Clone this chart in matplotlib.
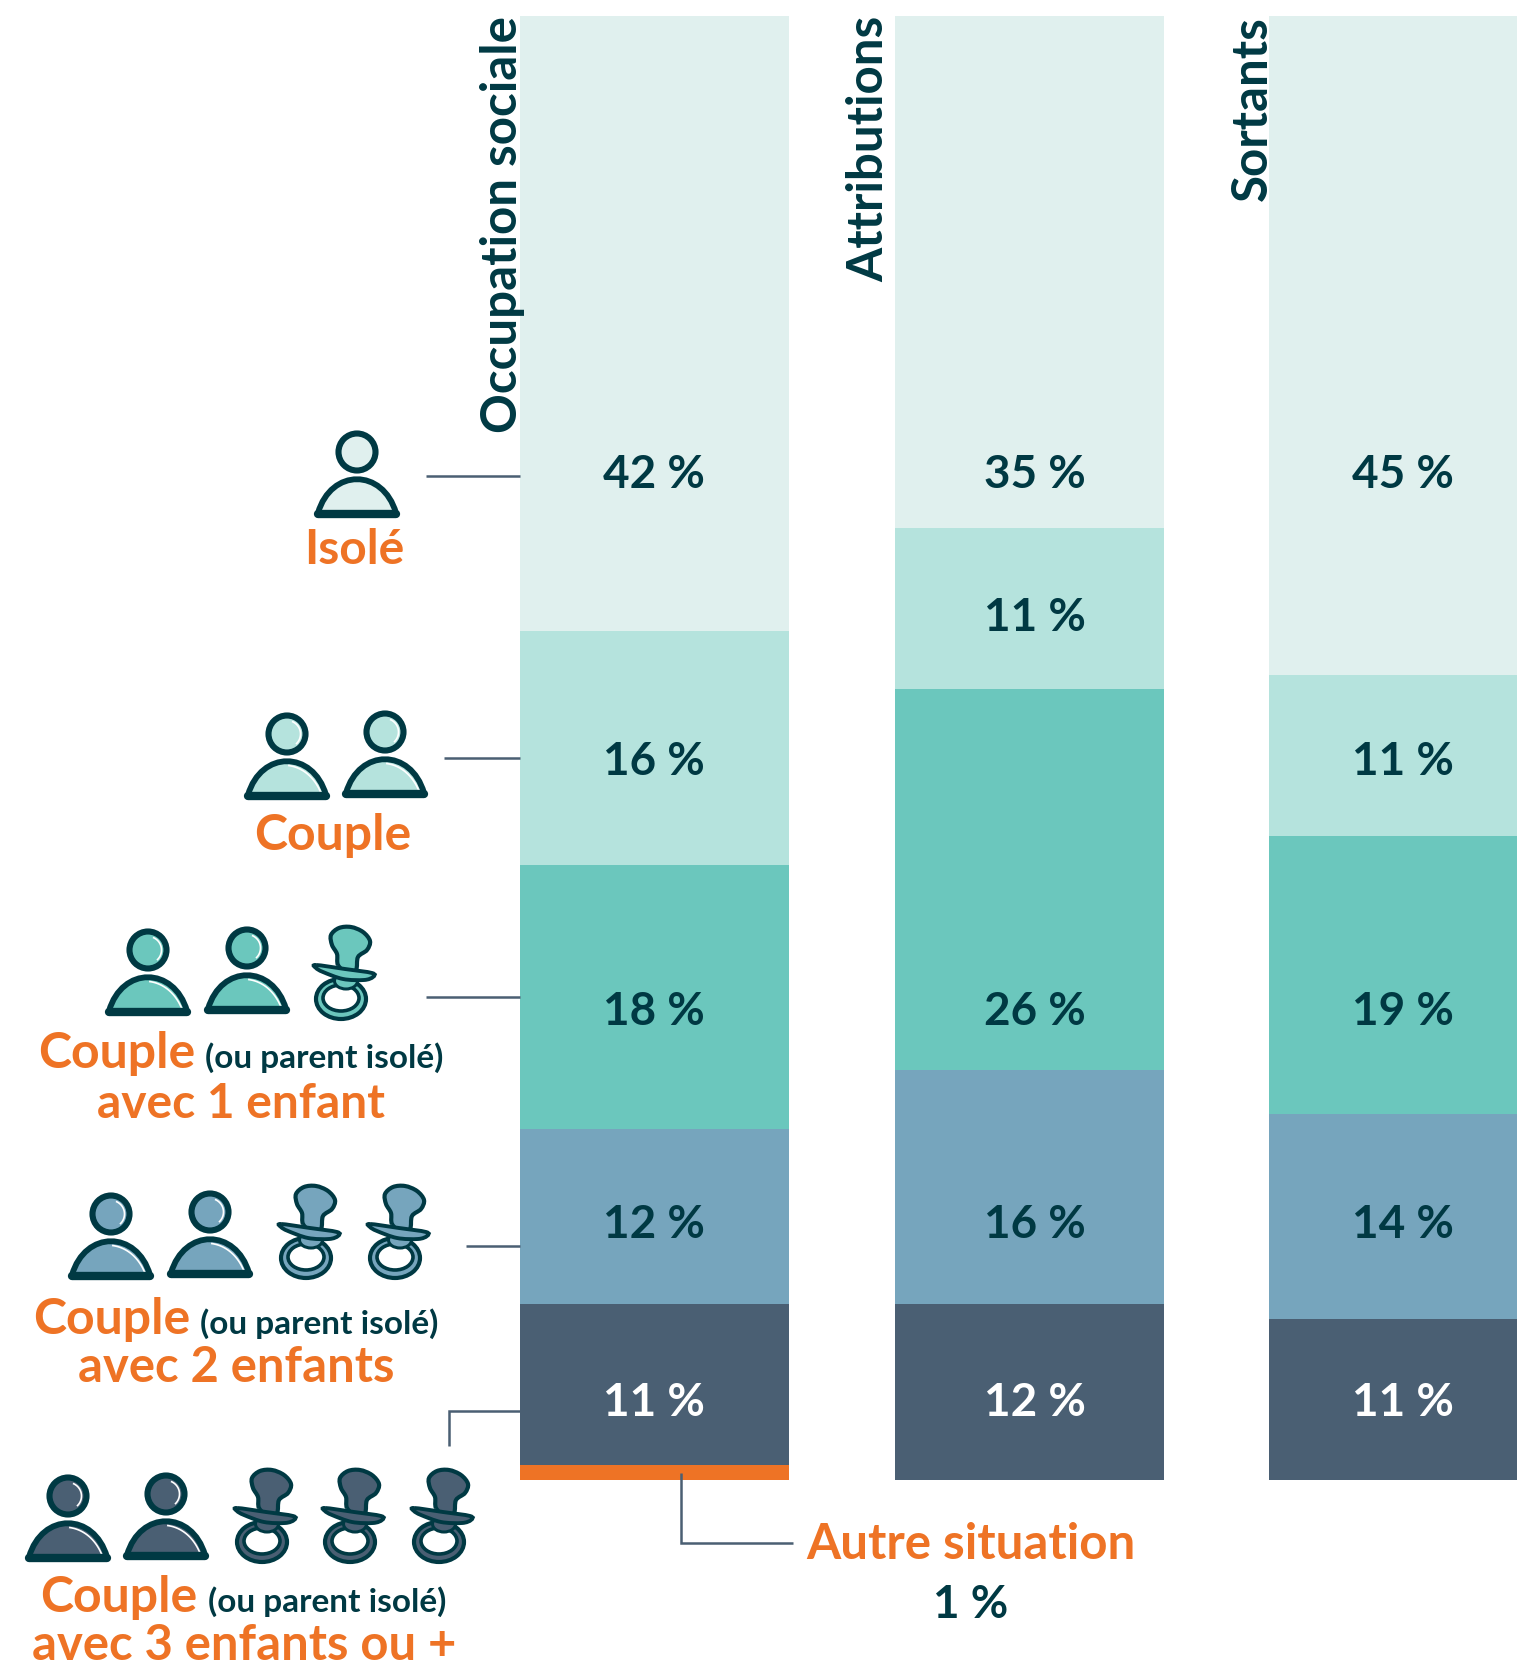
import matplotlib
matplotlib.use("Agg")

import numpy as np
import matplotlib.pyplot as plt
from matplotlib.patches import Circle, Ellipse, PathPatch
from matplotlib.path import Path

W, H = 1517, 1667

columns = ["Occupation sociale", "Attributions", "Sortants"]
occupation = [42, 16, 18, 12, 11, 1]
attributions = [35, 11, 26, 16, 12, 0]
sortants = [45, 11, 19, 14, 11, 0]
seg_colors = ["#e0f0ee", "#b5e3dd", "#6bc7bd", "#76a5bd", "#4a5f73", "#ee7325"]

DARK = "#003943"
ORANGE = "#ee7325"
LINE = "#4a5f73"
FONT = "Lato"

plt.rcParams["font.family"] = [FONT, "DejaVu Sans"]

fig = plt.figure(figsize=(W / 100, H / 100), dpi=100, facecolor="white")

# bars: y axis is in percent, 100 % = 1464 px
ax = fig.add_axes([0, (H - 1480) / H, 1, 1464 / H])
ax.set_xlim(0, W)
ax.set_ylim(100, 0)
ax.axis("off")

# overlay in pixels for icons and labels
ov = fig.add_axes([0, 0, 1, 1], zorder=5)
ov.set_xlim(0, W)
ov.set_ylim(H, 0)
ov.axis("off")
ov.patch.set_alpha(0)

bar_lefts = [520, 895, 1269]
bar_widths = [269, 269, 248]
series = [occupation, attributions, sortants]
for left, width, vals in zip(bar_lefts, bar_widths, series):
    vals = np.array(vals)
    tops = np.concatenate([[0], np.cumsum(vals)[:-1]])
    ax.bar(left, vals, width=width, bottom=tops, color=seg_colors, align="edge", linewidth=0)

# value labels, placed by hand as in the original
label_x = [654, 1035, 1403]
label_y = [
    [475, 762, 1012, 1225, 1403],
    [475, 618, 1012, 1225, 1403],
    [475, 762, 1012, 1225, 1403],
]
for x, ys, vals in zip(label_x, label_y, series):
    for i, y in enumerate(ys):
        ov.text(x, y, f"{vals[i]} %", ha="center", va="center", fontsize=33, fontweight="bold",
                color="white" if i == 4 else DARK)

title_x = [480, 846, 1230]
for x, name in zip(title_x, columns):
    ov.text(x, 16, name, rotation=90, ha="right", va="top", fontsize=35.5, fontweight="bold",
            color=DARK, rotation_mode="anchor")


def smooth(points):
    # closed Catmull-Rom style path through the points
    pts = np.array(points, dtype=float)
    n = len(pts)
    verts = [pts[0]]
    codes = [Path.MOVETO]
    for i in range(n):
        p0, p1, p2, p3 = pts[i - 1], pts[i], pts[(i + 1) % n], pts[(i + 2) % n]
        verts += [p1 + (p2 - p0) / 6, p2 - (p3 - p1) / 6, p2]
        codes += [Path.CURVE4] * 3
    return Path(verts, codes)


def person(cx, base, color, shine=True):
    ov.add_patch(Circle((cx, base - 66), 18.5, fc=color, ec=DARK, lw=4.4))
    if shine:
        t = np.radians(np.linspace(-65, 45, 30))
        ov.plot(cx + 13.5 * np.cos(t), base - 66 + 13.5 * np.sin(t), color="white", lw=1.2)
    x0, x3, y0 = cx - 39, cx + 39, base - 5
    cy = base - 50
    dome = Path(
        [(x0, y0), (cx - 26, cy), (cx + 26, cy), (x3, y0), (x0, y0)],
        [Path.MOVETO, Path.CURVE4, Path.CURVE4, Path.CURVE4, Path.CLOSEPOLY],
    )
    ov.add_patch(PathPatch(dome, fc=color, ec=DARK, lw=4.2, joinstyle="round"))
    if shine:
        t = np.linspace(0.55, 0.97, 30)
        bx = (1 - t) ** 3 * x0 + 3 * (1 - t) ** 2 * t * (cx - 26) + 3 * (1 - t) * t ** 2 * (cx + 26) + t ** 3 * x3
        by = (1 - t) ** 3 * y0 + 3 * (1 - t) ** 2 * t * cy + 3 * (1 - t) * t ** 2 * cy + t ** 3 * y0
        ov.plot(bx - 3, by + 4, color="white", lw=1.2)
    ov.plot([cx - 39, cx + 39], [base - 4, base - 4], color=DARK, lw=6, solid_capstyle="round")


def pacifier(cx, top, color):
    ov.add_patch(Ellipse((cx - 2, top + 72), 50, 40, fc=color, ec=DARK, lw=3))
    ov.add_patch(Ellipse((cx - 2, top + 71), 36, 26, fc="white", ec=DARK, lw=2.6))
    ov.add_patch(Ellipse((cx + 3, top + 54), 23, 16, fc=color, ec=DARK, lw=2.2))
    bulb = [(-5, 38), (-6, 27), (-11, 18), (-12, 8), (-4, 1), (8, 0), (20, 5), (27, 14), (24, 23), (15, 30), (13, 43), (4, 46)]
    ov.add_patch(PathPatch(smooth([(cx + u, top + v) for u, v in bulb]), fc=color, ec=DARK, lw=3))
    shield = [(-27, 38), (2, 42), (29, 46), (30, 50), (21, 53), (0, 52), (-20, 45), (-27, 41)]
    ov.add_patch(PathPatch(smooth([(cx + u, top + v) for u, v in shield]), fc=color, ec=DARK, lw=2.8))


person(357, 518, seg_colors[0], shine=False)
person(287, 800, seg_colors[1])
person(385, 798, seg_colors[1])
person(148, 1016, seg_colors[2])
person(247, 1014, seg_colors[2])
pacifier(343, 927, seg_colors[2])
person(111, 1280, seg_colors[3])
person(210, 1278, seg_colors[3])
pacifier(308, 1186, seg_colors[3])
pacifier(397, 1186, seg_colors[3])
person(68, 1562, seg_colors[4])
person(166, 1560, seg_colors[4])
pacifier(264, 1470, seg_colors[4])
pacifier(352, 1470, seg_colors[4])
pacifier(441, 1470, seg_colors[4])

# leader lines
for xs, ys in [
    ([426, 520], [476, 476]),
    ([444, 520], [758, 758]),
    ([426, 520], [997, 997]),
    ([466, 520], [1246, 1246]),
    ([449, 449, 520], [1446, 1411, 1411]),
    ([681, 681, 793], [1473, 1543, 1543]),
]:
    ov.plot(xs, ys, color=LINE, lw=1.8, solid_joinstyle="miter", solid_capstyle="butt")

orange_kw = dict(color=ORANGE, fontweight="bold", va="baseline")
ov.text(354, 564, "Isolé", ha="center", fontsize=34.5, **orange_kw)
ov.text(333, 850, "Couple", ha="center", fontsize=36, **orange_kw)

for x1, x2, y, cx, y2, fs, txt in [
    (38, 205, 1068, 241, 1118, 34.5, "avec 1 enfant"),
    (33, 200, 1334, 236, 1382, 35.3, "avec 2 enfants"),
    (40, 208, 1612, 244, 1660, 35.3, "avec 3 enfants ou +"),
]:
    ov.text(x1, y, "Couple", ha="left", fontsize=36, **orange_kw)
    ov.text(x2, y, "(ou parent isolé)", ha="left", va="baseline", fontsize=24, fontweight="bold", color=DARK)
    ov.text(cx, y2, txt, ha="center", fontsize=fs, **orange_kw)

ov.text(971, 1559, "Autre situation", ha="center", fontsize=35.5, **orange_kw)
ov.text(971, 1618, f"{occupation[5]} %", ha="center", va="baseline", fontsize=33, fontweight="bold", color=DARK)

fig.savefig("out.png", dpi=100, facecolor="white")
